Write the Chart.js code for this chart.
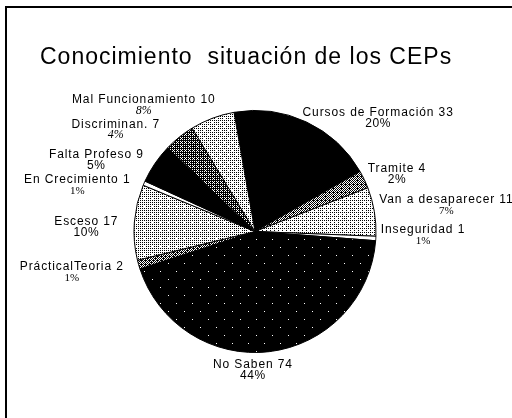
<!DOCTYPE html>
<html lang="es">
<head>
<meta charset="utf-8">
<title>Conocimiento situación de los CEPs</title>
<script src="https://cdn.jsdelivr.net/npm/chart.js@4.4.1/dist/chart.umd.min.js"></script>
<style>
  html, body { margin: 0; padding: 0; background: #fff; }
  #wrap  { position: relative; width: 512px; height: 418px; overflow: hidden; }
  #pie   { position: absolute; left: 0; top: 0; }
  #frame { position: absolute; left: 5px; top: 6px; right: 0; bottom: 0;
           border-left: 2px solid #000; border-top: 2px solid #000; pointer-events: none; }
</style>
</head>
<body>
<div id="wrap">
  <canvas id="pie" width="512" height="418"></canvas>
  <div id="frame"></div>
</div>
<script>
// ============================================================
// Conocimiento situación de los CEPs — pie chart
// ============================================================

// ── DATA ──────────────────────────────────────────────────
const TITLE    = 'Conocimiento  situación de los CEPs';
const LABELS   = ['Cursos de Formación', 'Tramite', 'Van a desaparecer', 'Inseguridad', 'No Saben',
                  'PrácticalTeoria', 'Esceso', 'En Crecimiento', 'Falta Profeso', 'Discriminan.', 'Mal Funcionamiento'];
const COUNTS   = [33, 4, 11, 1, 74, 2, 17, 1, 9, 7, 10];
const PERCENTS = ['20%', '2%', '7%', '1%', '44%', '1%', '10%', '1%', '5%', '4%', '8%'];

// ── STYLE (kept apart from the data) ──────────────────────
// dark pixels per 16x16 dither tile
const INK      = [256, 140, 50, 0, 254, 150, 60, 0, 256, 180, 56];
const PCT_FONT = ['sans', 'sans', 'serif', 'serif', 'sans', 'serif', 'sans', 'serif', 'sans', 'italic', 'italic'];
// label nudge [dx, dy] from the slice anchor
const NUDGE    = [[-6, -5], [-1, -9], [0, -11], [0, -9], [-17, 8], [-10, 1], [-11, 0], [-9, -1], [-7, -6], [-16, -9], [5, -14]];

const SANS  = '"Liberation Sans", Arial, sans-serif';
const SERIF = '"Liberation Serif", "Times New Roman", serif';

// ── DITHER PATTERNS ───────────────────────────────────────
function bayer(size) {
  let m = [[0]];
  while (m.length < size) {
    const s = m.length, next = [];
    for (let y = 0; y < s * 2; y++) {
      next.push([]);
      for (let x = 0; x < s * 2; x++) {
        const q = [[0, 2], [3, 1]][y < s ? 0 : 1][x < s ? 0 : 1];
        next[y].push(4 * m[y % s][x % s] + q);
      }
    }
    m = next;
  }
  return m;
}

function stipple(ctx, dark) {
  const tile = document.createElement('canvas');
  tile.width = tile.height = 16;
  const g = tile.getContext('2d');
  g.fillStyle = '#fff';
  g.fillRect(0, 0, 16, 16);
  g.fillStyle = '#000';
  const m = bayer(16);
  for (let y = 0; y < 16; y++)
    for (let x = 0; x < 16; x++)
      if (m[y][x] < dark) g.fillRect(x, y, 1, 1);
  return ctx.createPattern(tile, 'repeat');
}

// ── TITLE ─────────────────────────────────────────────────
const titleText = {
  id: 'titleText',
  afterDraw(chart) {
    const ctx = chart.ctx;
    ctx.save();
    ctx.font = `23px ${SANS}`;
    ctx.letterSpacing = '1px';
    ctx.fillStyle = '#000';
    ctx.textAlign = 'left';
    ctx.textBaseline = 'alphabetic';
    ctx.fillText(TITLE, 40, 64);
    ctx.restore();
  },
};

// ── SLICE LABELS ──────────────────────────────────────────
const sliceLabels = {
  id: 'sliceLabels',
  afterDatasetsDraw(chart) {
    const ctx = chart.ctx;
    const arcs = chart.getDatasetMeta(0).data;
    ctx.save();
    ctx.fillStyle = '#000';
    ctx.textBaseline = 'middle';
    ctx.textAlign = 'center';
    arcs.forEach((arc, i) => {
      const { x, y, startAngle, endAngle, outerRadius } =
        arc.getProps(['x', 'y', 'startAngle', 'endAngle', 'outerRadius'], true);
      const mid = (startAngle + endAngle) / 2;
      const r = outerRadius + 5;
      const ax = x + Math.cos(mid) * r;
      const ay = y + Math.sin(mid) * r;

      const name = `${LABELS[i]} ${COUNTS[i]}`;
      ctx.font = `12px ${SANS}`;
      ctx.letterSpacing = '0.9px';
      const w = ctx.measureText(name).width;
      const side = Math.cos(mid);
      let cx = side > 0.3 ? ax + w / 2 : side < -0.3 ? ax - w / 2 : ax;
      cx += NUDGE[i][0];
      const cy = ay + NUDGE[i][1];
      ctx.fillText(name, cx, cy);

      const f = PCT_FONT[i];
      if (f === 'sans') { ctx.font = `12px ${SANS}`; ctx.letterSpacing = '0.6px'; }
      else if (f === 'serif') { ctx.font = `11px ${SERIF}`; ctx.letterSpacing = '0px'; }
      else { ctx.font = `italic 12px ${SERIF}`; ctx.letterSpacing = '0px'; }
      ctx.fillText(PERCENTS[i], cx, cy + 11);
    });
    ctx.restore();
  },
};

// ── CHART ─────────────────────────────────────────────────
const ctx = document.getElementById('pie').getContext('2d');
new Chart(ctx, {
  type: 'pie',
  data: {
    labels: LABELS,
    datasets: [{
      data: COUNTS,
      backgroundColor: INK.map(d => stipple(ctx, d)),
      borderColor: '#000',
      borderWidth: 1,
      hoverOffset: 0,
    }],
  },
  options: {
    responsive: false,
    animation: false,
    devicePixelRatio: 1,
    rotation: -10,
    layout: { padding: { top: 110, bottom: 65, left: 100, right: 102 } },
    plugins: {
      legend: { display: false },
      tooltip: { enabled: false },
    },
  },
  plugins: [sliceLabels, titleText],
});
</script>
</body>
</html>
